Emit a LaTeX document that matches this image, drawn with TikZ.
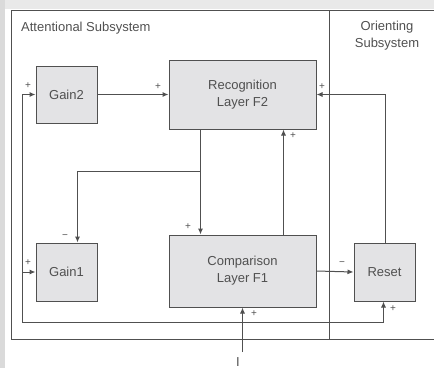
\documentclass[tikz,border=0pt]{standalone}
\usepackage{fontspec}
\setmainfont{Liberation Sans}
\usetikzlibrary{arrows.meta}
\definecolor{linegray}{HTML}{505050}
\definecolor{textgray}{HTML}{505050}
\definecolor{boxfill}{HTML}{E3E3E5}
\definecolor{edgegray}{HTML}{DADADA}
\tikzset{
  blockbox/.style={draw=linegray, line width=1pt, fill=boxfill, minimum width=#1},
  wire/.style={draw=linegray, line width=1pt},
  feed/.style={wire, -{Latex[length=6pt,width=5pt]}},
  sign/.style={text=textgray, font=\fontsize{10}{11}\selectfont, inner sep=0pt},
  label/.style={text=textgray, font=\fontsize{13}{17}\selectfont, align=center, inner sep=0pt}
}
\begin{document}
\begin{tikzpicture}[x=1pt, y=-1pt]
  \useasboundingbox (0,0) rectangle (434,368);
  % paper edge shading
  \fill[edgegray] (0,0) rectangle (5,368);
  \fill[edgegray!60] (5,0) rectangle (434,9);

  % subsystem frame
  \draw[wire] (434,10) -- (11,10) -- (11,339) -- (434,339);
  \draw[wire] (329,10) -- (329,339);
  \node[label, anchor=west] (att) at (21,28) {Attentional Subsystem};
  \node[label] (ori) at (387,36) {Orienting\\Subsystem};

  % blocks
  \node[blockbox=61pt, minimum height=57pt, label] (gain2) at (66.5,94.5) {Gain2};
  \node[blockbox=147pt, minimum height=69pt, label] (f2) at (242.5,94.5) {Recognition\\Layer F2};
  \node[blockbox=61pt, minimum height=58pt, label] (gain1) at (66.5,272) {Gain1};
  \node[blockbox=147pt, minimum height=72pt, label] (f1) at (242.5,271) {Comparison\\Layer F1};
  \node[blockbox=61pt, minimum height=58pt, label] (reset) at (384.5,272) {Reset};

  % helper points
  \coordinate (split) at (200.5,171.5);
  \coordinate (bend) at (77.5,171.5);
  \coordinate (loopL) at (22.5,322.5);
  \coordinate (loopR) at (383.5,322.5);
  \coordinate (rtop) at (385.5,94.5);
  \coordinate (inp) at (242.5,352);

  % Gain2 -> F2
  \draw[feed] (gain2.east) -- (f2.west);
  \node[sign] at (158,87) {+};

  % F2 -> F1 top-down, with branch to Gain1
  \draw[feed] (f2.south -| split) -- (f1.north -| split);
  \node[sign] at (188,227) {+};
  \draw[feed] (split) -- (bend) -- (gain1.north -| bend);
  \node[sign] at (65,237) {−};

  % F1 -> F2 bottom-up
  \draw[feed] (f1.north -| 283.5,0) -- (f2.south -| 283.5,0);
  \node[sign] at (293,136) {+};

  % F1 -> Reset
  \draw[feed] (f1.east) -- (reset.west);
  \node[sign] at (342,264) {−};

  % Reset -> F2
  \draw[feed] (reset.north -| rtop) -- (rtop) -- (f2.east);
  \node[sign] at (322,87) {+};

  % input line
  \draw[feed] (inp) -- (f1.south -| inp);
  \node[sign] at (254,314) {+};
  \node[label, anchor=base] (inI) at (238,366.3) {I};

  % input fan-out to Gain2, Gain1 and Reset
  \draw[feed] (loopR) -- (loopL) -- (loopL |- gain2.west) -- (gain2.west);
  \node[sign] at (28,86) {+};
  \draw[feed] (loopL |- gain1.west) -- (gain1.west);
  \node[sign] at (28,263) {+};
  \draw[feed] (loopR) -- (reset.south -| loopR);
  \node[sign] at (393,309) {+};
\end{tikzpicture}
\end{document}
